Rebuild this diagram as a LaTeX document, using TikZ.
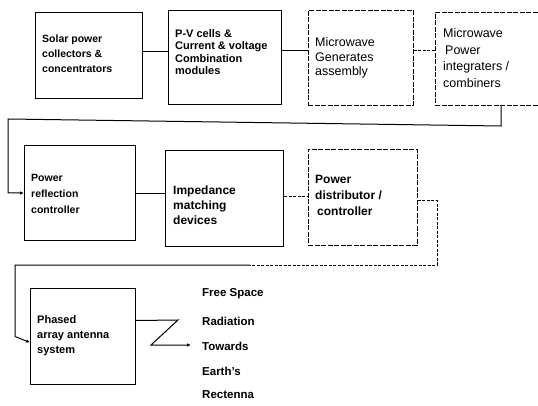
\documentclass[tikz,border=0pt]{standalone}
\usepackage{fontspec}
\setmainfont{Liberation Sans}
\usetikzlibrary{arrows.meta}
\begin{document}
\begin{tikzpicture}[x=1pt,y=-1pt,
  blk/.style={draw, line width=1pt, anchor=north west, inner sep=0pt},
  dblk/.style={blk, line width=0.8pt, dash pattern=on 5pt off 1.5pt},
  txt/.style={anchor=west, align=left, inner sep=0pt},
  link/.style={line width=1pt},
  dlink/.style={line width=0.8pt, dash pattern=on 3pt off 1.5pt},
  tip/.style={-{Latex[length=4pt,width=3.5pt]}}]
  \useasboundingbox (0,0) rectangle (538,406);
  % --- first row: collection and generation
  \node[blk, minimum width=107pt, minimum height=86pt] (solar) at (35,12) {};
  \node[txt, font=\fontsize{10.5}{15}\selectfont\bfseries] (solart) at (42,54)
    {Solar power\\collectors \&\\concentrators};
  \node[blk, minimum width=113pt, minimum height=94pt] (pv) at (168,10) {};
  \node[txt, font=\fontsize{11}{12.5}\selectfont\bfseries] (pvt) at (175,52)
    {P-V cells \&\\Current \& voltage\\Combination\\modules};
  \node[dblk, minimum width=105pt, minimum height=95pt] (mwgen) at (308,10) {};
  \node[txt, font=\fontsize{12.5}{14.5}\selectfont] (mwgent) at (315,58)
    {Microwave\\Generates\\assembly};
  % open on the right: the box runs off the sheet
  \node[dblk, minimum width=112pt, minimum height=93pt] (comb) at (435,12) {};
  \node[txt, font=\fontsize{12.5}{16.5}\selectfont] (combt) at (443,58)
    {Microwave\\\hspace*{2pt}Power\\integraters /\\combiners};
  \draw[link] ([yshift=4pt]solar.east) -- ([yshift=4pt]solar.east -| pv.west);
  \draw[link] ([yshift=7pt]pv.east) -- ([yshift=7pt]pv.east -| mwgen.west);
  \draw[dlink] ([yshift=7.5pt]mwgen.east) -- ([yshift=7.5pt]mwgen.east -| comb.west);
  % --- second row: conditioning
  \node[blk, minimum width=111pt, minimum height=95pt] (reflect) at (24,145) {};
  \node[txt, font=\fontsize{10.5}{16}\selectfont\bfseries] (reflectt) at (31,193.5)
    {Power\\reflection\\controller};
  \node[blk, minimum width=118pt, minimum height=96pt] (imped) at (165,150) {};
  \node[txt, font=\fontsize{12}{15}\selectfont\bfseries] (impedt) at (173,205)
    {Impedance\\matching\\devices};
  \node[dblk, minimum width=109pt, minimum height=96pt] (distr) at (308,149) {};
  \node[txt, font=\fontsize{12}{16}\selectfont\bfseries] (distrt) at (315,195)
    {Power\\distributor /\\\hspace*{2pt}controller};
  \draw[link] ([yshift=-0.5pt]reflect.east) -- ([yshift=-0.5pt]reflect.east -| imped.west);
  \draw[dlink] ([yshift=2pt]imped.east) -- ([yshift=2pt]imped.east -| distr.west);
  % --- return line down to the second row (the scan runs it a little askew)
  \coordinate (turnA) at (501,126);
  \coordinate (turnB) at (8,119);
  \draw[link, tip] (turnA |- comb.south) -- (turnA) -- (turnB) -- (turnB |- reflect.west) -- (reflect.west);
  % --- third row: radiation
  \node[blk, minimum width=105pt, minimum height=96pt] (antenna) at (30,288) {};
  \node[txt, font=\fontsize{11}{15}\selectfont\bfseries] (antennat) at (37,336)
    {Phased\\array antenna\\system};
  \begin{scope}[every node/.style={txt, font=\fontsize{11.5}{13}\selectfont\bfseries}]
    \node (free) at (202,294) {Free Space};
    \node (radiation) at (202,321) {Radiation};
    \node (towards) at (202,346) {Towards};
    \node (earth) at (202,371) {Earth's};
    \node (rectenna) at (202,395) {Rectenna};
  \end{scope}
  % --- return line down to the antenna
  \coordinate (turnC) at (437,265);
  \coordinate (turnM) at (250,265);
  \coordinate (turnD) at (15,265);
  \draw[dlink] ([yshift=-3pt]distr.east) -- ([yshift=-3pt]distr.east -| turnC) -- (turnC) -- (turnM);
  \draw[link, tip] (turnM) -- (turnD) -- (turnD |- antenna.west) -- ([yshift=-6pt]antenna.west);
  \coordinate (zigA) at (178,320);
  \coordinate (zigB) at (151,345);
  \draw[link, tip] ([yshift=16pt]antenna.east) -- (zigA) -- (zigB) -- ([xshift=-11pt]towards.west |- zigB);
\end{tikzpicture}
\end{document}
